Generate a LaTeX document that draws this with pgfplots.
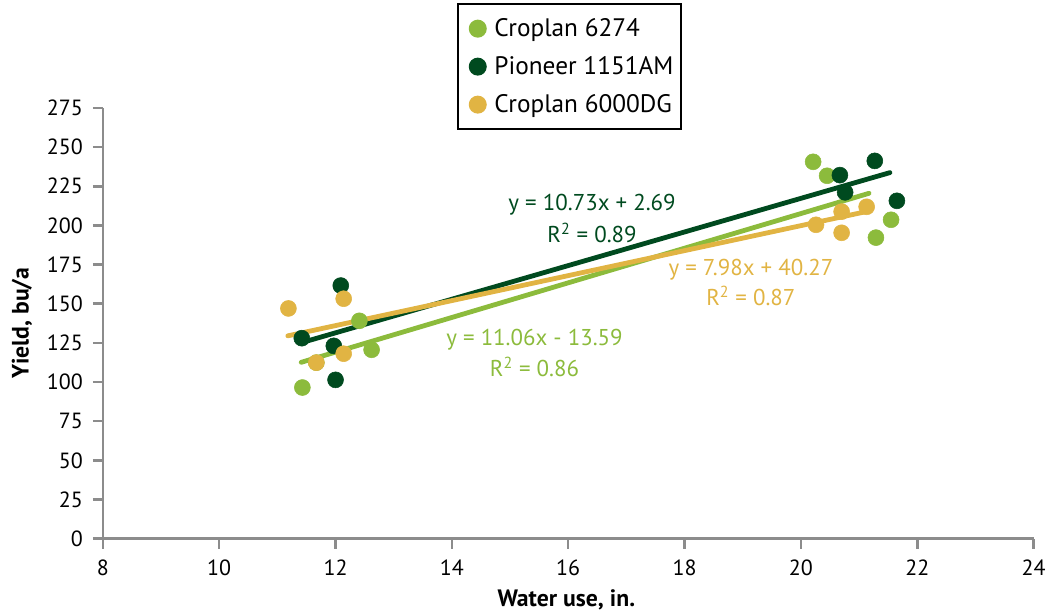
\documentclass[border=0pt]{standalone}
\usepackage{fontspec}
\setmainfont{PT Sans}
\usepackage{pgfplots}
\pgfplotsset{compat=1.18}
\definecolor{lgreen}{HTML}{8CBB3C}
\definecolor{dgreen}{HTML}{004A1F}
\definecolor{gold}{HTML}{E1B443}
\definecolor{axgray}{HTML}{8C8C8C}

\begin{document}
\begin{tikzpicture}
\begin{axis}[
  scale only axis, width=699pt, height=323.5pt,
  xmin=8, xmax=24, ymin=0, ymax=275,
  xtick={8,10,...,24}, ytick={0,25,...,275},
  axis lines=left,
  axis line style={-, axgray, line width=1.9pt},
  tick align=outside,
  tick style={axgray, line width=1.9pt},
  major tick length=7.5pt,
  /pgf/number format/assume math mode=true,
  tick label style={font=\fontsize{16.5}{18}\selectfont, black},
  yticklabel style={xshift=-4pt},
  xticklabel style={yshift=-5pt},
  xlabel={Water use, in.},
  ylabel={Yield, bu/a},
  xlabel style={font=\fontsize{17.8}{20}\selectfont\bfseries, at={(axis description cs:0.498,-0.1415)}, anchor=center},
  ylabel style={font=\fontsize{17.8}{20}\selectfont\bfseries, at={(axis description cs:-0.0869,0.5)}, anchor=center},
  clip=false,
  legend style={at={(axis description cs:0.381,1.2436)}, anchor=north west,
    draw=black, line width=1.5pt, font=\fontsize{19}{22}\selectfont,
    row sep=9.5pt, inner xsep=4pt, inner ysep=9pt},
  legend cell align=left,
  legend image code/.code={\path[draw=none, fill=none] (0pt,-6pt) rectangle (21pt,6pt); \fill[#1] (10.5pt,0pt) circle (6pt);},
]
% trend lines
\addplot[lgreen, line width=3.6pt, line cap=round, forget plot] coordinates {(11.41,112.6) (21.17,220.5)};
\addplot[dgreen, line width=3.6pt, line cap=round, forget plot] coordinates {(11.42,125.2) (21.53,233.7)};
\addplot[gold, line width=3.6pt, line cap=round, forget plot] coordinates {(11.18,129.5) (21.16,209.1)};
% measured points
\addplot[only marks, mark=*, mark size=6pt, color=lgreen, mark options={draw=lgreen, fill=lgreen}] coordinates {
(11.43,96.5) (11.67,112.4) (12.41,139.1) (12.62,120.6)
(20.21,240.6) (20.45,231.7) (21.29,192.2) (21.55,203.6)};
\addlegendentry{Croplan 6274}
\addplot[only marks, mark=*, mark size=6pt, color=dgreen, mark options={draw=dgreen, fill=dgreen}] coordinates {
(11.42,128.0) (12.09,161.6) (11.97,123.1) (12.00,101.4)
(21.27,241.2) (20.67,232.1) (20.76,221.1) (21.65,215.7)};
\addlegendentry{Pioneer 1151AM}
\addplot[only marks, mark=*, mark size=6pt, color=gold, mark options={draw=gold, fill=gold}] coordinates {
(11.19,147.0) (12.14,153.2) (12.14,118.1) (11.67,112.4)
(20.26,200.4) (20.70,195.3) (20.70,208.8) (21.13,211.9)};
\addlegendentry{Croplan 6000DG}
% equations
\node[dgreen, font=\fontsize{17.2}{20}\selectfont] at (axis cs:16.41,213.2) {y = 10.73x + 2.69};
\node[dgreen, font=\fontsize{17.2}{20}\selectfont] at (axis cs:16.41,195.3) {R\textsuperscript{2} = 0.89};
\node[gold, font=\fontsize{17.2}{20}\selectfont] at (axis cs:19.14,171.5) {y = 7.98x + 40.27};
\node[gold, font=\fontsize{17.2}{20}\selectfont] at (axis cs:19.14,155.0) {R\textsuperscript{2} = 0.87};
\node[lgreen, font=\fontsize{17.2}{20}\selectfont] at (axis cs:15.42,127.0) {y = 11.06x - 13.59};
\node[lgreen, font=\fontsize{17.2}{20}\selectfont] at (axis cs:15.42,109.8) {R\textsuperscript{2} = 0.86};
\path (rel axis cs:-0.1105,-0.174) rectangle (rel axis cs:1.0161,1.2506);
\end{axis}
\end{tikzpicture}
\end{document}
